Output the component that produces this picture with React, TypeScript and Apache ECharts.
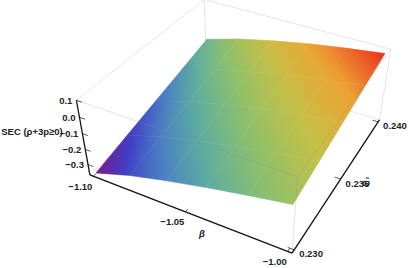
import React, { useEffect, useRef } from "react";
import * as echarts from "echarts";

const W = 409, H = 268;
const betaValues = [-1.1, -1.08, -1.06, -1.04, -1.02, -1.0];
const omegaValues = [0.23, 0.2325, 0.235, 0.2375, 0.24];
// rows: omega, columns: beta
const zValues = [
  [-0.365, -0.290, -0.232, -0.180, -0.133, -0.090],
  [-0.311, -0.238, -0.182, -0.132, -0.088, -0.048],
  [-0.258, -0.187, -0.133, -0.084, -0.043, -0.005],
  [-0.204, -0.135, -0.083, -0.036, 0.003, 0.038],
  [-0.150, -0.084, -0.033, 0.012, 0.048, 0.080],
];
const betaTicks = [-1.1, -1.05, -1.0];
const omegaTicks = [0.23, 0.235, 0.24];
const zTicks = [-0.3, -0.2, -0.1, 0.0, 0.1];
const betaRange = [-1.102, -0.998];
const omegaRange = [0.2298, 0.2402];
const zRange = [-0.37, 0.1];
const rainbow = ["#7a1a8c", "#3f3fc5", "#4a80c4", "#5fae9f", "#8cc06c", "#c4c048", "#eda433", "#e8321f"];
const cornerPx: [number, number, number, number, number][] = [
  [0, 0, 0, 89, 174], [1, 0, 0, 293, 253], [1, 1, 0, 379, 120], [0, 1, 0, 207, 68],
  [0, 0, 1, 77, 101], [1, 0, 1, 297, 177], [1, 1, 1, 391, 49], [0, 1, 1, 204, -1],
];

function solve(A: number[][], b: number[]) {
  const n = b.length;
  const M = A.map((r, i) => [...r, b[i]]);
  for (let c = 0; c < n; c++) {
    let p = c;
    for (let r = c + 1; r < n; r++) if (Math.abs(M[r][c]) > Math.abs(M[p][c])) p = r;
    [M[c], M[p]] = [M[p], M[c]];
    for (let r = 0; r < n; r++) {
      if (r === c) continue;
      const f = M[r][c] / M[c][c];
      for (let k = c; k <= n; k++) M[r][k] -= f * M[c][k];
    }
  }
  return M.map((r, i) => r[n] / r[i]);
}
function fitCamera() {
  const rows: number[][] = [], rhs: number[] = [];
  for (const [u, v, w, x, y] of cornerPx) {
    rows.push([u, v, w, 1, 0, 0, 0, 0, -x * u, -x * v, -x * w]); rhs.push(x);
    rows.push([0, 0, 0, 0, u, v, w, 1, -y * u, -y * v, -y * w]); rhs.push(y);
  }
  const n = 11;
  const AtA = Array.from({ length: n }, (_, i) => Array.from({ length: n }, (_, j) => rows.reduce((s, r) => s + r[i] * r[j], 0)));
  const Atb = Array.from({ length: n }, (_, i) => rows.reduce((s, r, k) => s + r[i] * rhs[k], 0));
  return solve(AtA, Atb);
}
const cam = fitCamera();
function project(beta: number, omega: number, z: number): [number, number] {
  const u = (beta - betaRange[0]) / (betaRange[1] - betaRange[0]);
  const v = (omega - omegaRange[0]) / (omegaRange[1] - omegaRange[0]);
  const w = (z - zRange[0]) / (zRange[1] - zRange[0]);
  const d = cam[8] * u + cam[9] * v + cam[10] * w + 1;
  return [(cam[0] * u + cam[1] * v + cam[2] * w + cam[3]) / d, (cam[4] * u + cam[5] * v + cam[6] * w + cam[7]) / d];
}
const zFlat = zValues.flat();
const zMin = Math.min(...zFlat), zMax = Math.max(...zFlat);
const colorOf = (z: number) => echarts.color.lerp(Math.max(0, Math.min(1, (z - zMin) / (zMax - zMin))), rainbow) as string;

// linear gradient across one quad: the best plane z = a x + b y + c through its four corners
function quadGradient(pts: number[][], zs: number[]) {
  const mx = pts.reduce((s, p) => s + p[0], 0) / 4, my = pts.reduce((s, p) => s + p[1], 0) / 4, mz = zs.reduce((s, z) => s + z, 0) / 4;
  let sxx = 0, sxy = 0, syy = 0, sxz = 0, syz = 0;
  pts.forEach((p, k) => {
    const x = p[0] - mx, y = p[1] - my, z = zs[k] - mz;
    sxx += x * x; sxy += x * y; syy += y * y; sxz += x * z; syz += y * z;
  });
  const det = sxx * syy - sxy * sxy;
  const a = (sxz * syy - syz * sxy) / det, b = (syz * sxx - sxz * sxy) / det;
  const g2 = a * a + b * b;
  const lo = Math.min(...zs), hi = Math.max(...zs);
  const x0 = mx + (a * (lo - mz)) / g2, y0 = my + (b * (lo - mz)) / g2;
  const x1 = mx + (a * (hi - mz)) / g2, y1 = my + (b * (hi - mz)) / g2;
  const stops = [0, 0.25, 0.5, 0.75, 1].map((o) => ({ offset: o, color: colorOf(lo + o * (hi - lo)) }));
  return new echarts.graphic.LinearGradient(x0, y0, x1, y1, stops, true);
}

const cells: number[][] = [];
for (let j = 0; j < omegaValues.length - 1; j++) for (let i = 0; i < betaValues.length - 1; i++) cells.push([i, j]);

const [b0, b1] = betaRange, [o0, o1] = omegaRange, [z0, z1] = zRange;
const backEdges = [
  [b0, o1, z0, b1, o1, z0], [b0, o0, z0, b0, o1, z0], [b0, o1, z0, b0, o1, z1],
  [b0, o1, z1, b1, o1, z1], [b0, o0, z1, b0, o1, z1], [b1, o1, z0, b1, o1, z1],
];
const frontEdges = [
  [b0, o0, z1, b1, o0, z1], [b1, o0, z1, b1, o1, z1], [b1, o0, z0, b1, o0, z1],
];
const axisEdges = [
  [b0, o0, z0, b0, o0, z1], [b0, o0, z0, b1, o0, z0], [b1, o0, z0, b1, o1, z0],
];
const tickLen = 0.0015;
const tickEdges = [
  ...betaTicks.map((b) => [b, o0, z0, b, o0 + 0.0002, z0]),
  ...omegaTicks.map((o) => [b1, o, z0, b1 - tickLen * 2, o, z0]),
  ...zTicks.map((z) => [b0, o0, z, b0 + tickLen * 2, o0, z]),
];
const FONT = '"Liberation Sans", Arial, sans-serif';
type Lab = { p: [number, number]; dx: number; dy: number; t: string; align: string; fontStyle?: string };
const fmt = (v: number, d: number) => (v < 0 ? "\u2212" : "") + Math.abs(v).toFixed(d);
const labels: Lab[] = [
  ...zTicks.map((z) => ({ p: project(b0, o0, z), dx: -4, dy: 0, t: fmt(z, 1), align: "right" })),
  ...betaTicks.map((b) => ({ p: project(b, o0, z0), dx: -13, dy: 10, t: fmt(b, 2), align: "center" })),
  ...omegaTicks.map((o) => ({ p: project(b1, o, z0), dx: 5, dy: 4, t: fmt(o, 3), align: "left" })),
  { p: [32, 131], dx: 0, dy: 0, t: "SEC (\u03c1+3p\u22650)", align: "center" },
  { p: [202, 233], dx: 0, dy: 0, t: "\u03b2", align: "center", fontStyle: "italic" },
  { p: [366, 182], dx: 0, dy: 0, t: "\u03c9\u0303", align: "center", fontStyle: "italic" },
];

function edgeSeries(edges: number[][], color: string, width: number, z: number) {
  return {
    type: "custom", coordinateSystem: "cartesian2d", silent: true, z, clip: false,
    data: edges,
    renderItem: (_: any, api: any) => {
      const a = api.coord(project(api.value(0), api.value(1), api.value(2)));
      const b = api.coord(project(api.value(3), api.value(4), api.value(5)));
      return { type: "line", shape: { x1: a[0], y1: a[1], x2: b[0], y2: b[1] }, style: { stroke: color, lineWidth: width, fill: "none" } };
    },
  };
}

export default function App() {
  const ref = useRef<HTMLDivElement>(null);
  useEffect(() => {
    const chart = echarts.init(ref.current!, null, { renderer: "svg" });
    chart.setOption({
      animation: false,
      backgroundColor: "#fff",
      grid: { left: 0, right: 0, top: 0, bottom: 0 },
      xAxis: { type: "value", min: 0, max: W, show: false },
      yAxis: { type: "value", min: 0, max: H, inverse: true, show: false },
      series: [
        edgeSeries(backEdges, "#dedede", 0.8, 1),
        {
          type: "custom", coordinateSystem: "cartesian2d", silent: true, z: 2, clip: false,
          data: cells,
          renderItem: (_: any, api: any) => {
            const i = api.value(0), j = api.value(1);
            const idx = [[i, j], [i + 1, j], [i + 1, j + 1], [i, j + 1]];
            const zs = idx.map(([a, c]) => zValues[c][a]);
            const pts = idx.map(([a, c]) => api.coord(project(betaValues[a], omegaValues[c], zValues[c][a])));
            const fill = quadGradient(pts, zs);
            return { type: "polygon", shape: { points: pts }, style: { fill, stroke: fill, lineWidth: 0.6 } };
          },
        },
        edgeSeries(frontEdges, "rgba(140,140,140,0.3)", 0.8, 3),
        edgeSeries(axisEdges, "#111", 1.3, 4),
        edgeSeries(tickEdges, "#111", 0.7, 4),
        {
          type: "custom", coordinateSystem: "cartesian2d", silent: true, z: 5, clip: false,
          data: labels.map((_, k) => [k]),
          renderItem: (_: any, api: any) => {
            const l = labels[api.value(0)];
            const c = api.coord(l.p);
            return {
              type: "text", x: c[0] + l.dx, y: c[1] + l.dy,
              style: { text: l.t, fill: "#222", font: `${l.fontStyle || "normal"} bold 9.5px ${FONT}`, align: l.align, verticalAlign: "middle" },
            };
          },
        },
      ],
    });
    return () => chart.dispose();
  }, []);
  return <div ref={ref} style={{ position: "fixed", left: 0, top: 0, width: W, height: H }} />;
}
